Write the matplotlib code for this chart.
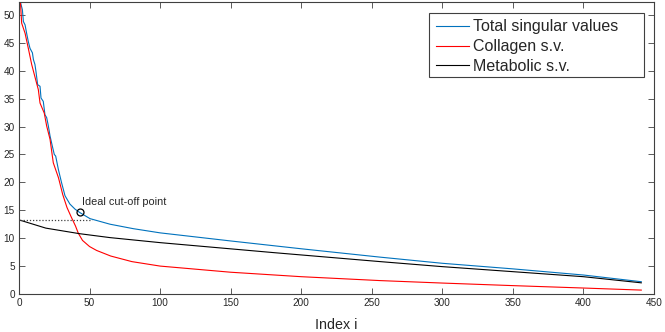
import matplotlib
matplotlib.use("Agg")
import matplotlib.pyplot as plt
from matplotlib.patches import Rectangle

plt.rcParams['font.family'] = ['Liberation Sans', 'DejaVu Sans']

# ---- data ----
total_i = [1, 2.4, 3.1, 4.3, 5.4, 6.6, 7.8, 9.5, 10.2, 11.3, 12.0, 13.2, 14.9, 15.6,
           17.2, 18.4, 19.6, 20.8, 22.0, 23.6, 25.0, 26.0, 27.9, 30.2, 32.6, 36.1,
           39.7, 43, 50.3, 64.5, 81, 100, 150, 200, 256, 300, 350, 400, 441]
total_v = [52.3, 50.9, 48.8, 48.2, 46.7, 45.2, 44.0, 43.2, 42.0, 41.1, 39.9, 37.5, 37.2,
           35.1, 34.5, 32.1, 31.6, 30.1, 28.3, 26.5, 25.0, 24.7, 22.3, 19.9, 17.6, 16.1,
           15.2, 14.6, 13.5, 12.5, 11.7, 10.95, 9.5, 8.1, 6.6, 5.5, 4.5, 3.4, 2.2]

coll_i = [1, 1.9, 4.3, 6.6, 9.0, 11.8, 13.7, 14.9, 17.9, 19.6, 22.0, 23.2, 24.3,
          28, 31, 34, 37, 40, 42, 45, 50, 55, 65, 80, 100, 150, 200, 256, 300,
          350, 400, 441]
coll_v = [52.3, 48.5, 46.7, 44.0, 41.1, 38.4, 36.6, 34.2, 32.4, 30.1, 27.7, 25.5, 23.5,
          20.8, 17.8, 15.5, 13.8, 12.2, 10.9, 9.6, 8.5, 7.8, 6.8, 5.8, 5.0, 3.9, 3.1,
          2.4, 1.96, 1.5, 1.07, 0.7]

meta_i = [1, 10, 19, 43, 64.5, 100, 181, 256, 300, 350, 400, 441]
meta_v = [13.2, 12.5, 11.8, 10.8, 10.1, 9.2, 7.4, 5.8, 4.9, 4.0, 3.1, 2.0]

cutoff_i = 43
cutoff_v = 14.6
dotted_x = [1, 52]
dotted_y = [13.2, 13.2]

labels = ['Total singular values', 'Collagen s.v.', 'Metabolic s.v.']
xticks = list(range(0, 451, 50))
yticks = list(range(0, 51, 5))

# ---- figure ----
fig = plt.figure(figsize=(6.65, 3.32), dpi=100)
ax = fig.add_axes([19/665, 38/332, 635/665, 292/332])

ax.plot(total_i, total_v, color='#0072BD', lw=0.8, label=labels[0])
ax.plot(coll_i, coll_v, color='#FF0000', lw=0.8, label=labels[1])
ax.plot(meta_i, meta_v, color='black', lw=0.8, label=labels[2])
ax.plot(dotted_x, dotted_y, color='#404040', lw=0.9, ls=(0, (1, 1.5)))
ax.plot([cutoff_i], [cutoff_v], 'o', mfc='none', mec='black', ms=5, mew=0.9)
ax.text(cutoff_i + 1.5, cutoff_v + 1.8, 'Ideal cut-off point', fontsize=7.8,
        ha='left', va='center', color='#262626')

ax.set_xlim(0, 450)
ax.set_ylim(0, 52.3)
ax.set_xticks(xticks)
ax.set_yticks(yticks)
ax.tick_params(direction='in', length=4.5, width=0.6, top=True, right=True,
               labelsize=7.2, colors='#404040', labelcolor='#262626', pad=3)
for s in ax.spines.values():
    s.set_color('#404040')
    s.set_linewidth(0.8)

ax.set_xlabel('Index i', fontsize=10.3, color='#262626', labelpad=7)

# legend box (MATLAB style, wide right padding)
def axx(px):
    return (px - 19) / 635
def axy(py):
    return (294 - py) / 292

ax.add_patch(Rectangle((axx(429), axy(77)), axx(644) - axx(429), axy(13.3) - axy(77),
                       transform=ax.transAxes, facecolor='white', edgecolor='#404040',
                       lw=0.8, zorder=4))
leg = ax.legend(loc='upper left', bbox_to_anchor=(axx(436), axy(19.5)), borderaxespad=0,
                fontsize=11.5, handlelength=2.07, handletextpad=0.25, labelspacing=0.3,
                borderpad=0, frameon=False)
leg.set_zorder(5)
for t in leg.get_texts():
    t.set_color('#262626')

fig.savefig('out.png', dpi=100)
